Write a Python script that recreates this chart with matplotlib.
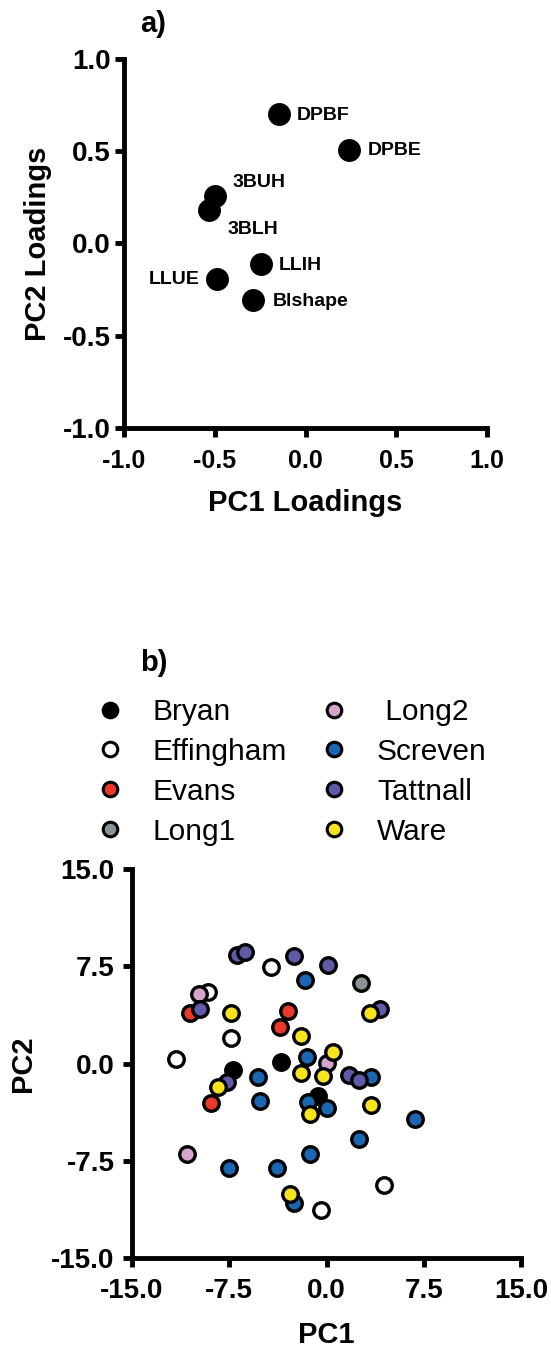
import numpy as np
import matplotlib.pyplot as plt
from matplotlib.lines import Line2D

plt.rcParams['font.family'] = ['Liberation Sans', 'DejaVu Sans']

# a) навантаження змінних
var_names = ['DPBF', 'DPBE', '3BUH', '3BLH', 'LLIH', 'LLUE', 'Blshape']
pc1_load = [-0.147, 0.238, -0.50, -0.534, -0.248, -0.488, -0.29]
pc2_load = [0.703, 0.509, 0.256, 0.179, -0.11, -0.191, -0.309]
load_ticks = [-1.0, -0.5, 0.0, 0.5, 1.0]

# b) оцінки по округах
counties = ['Bryan', 'Effingham', 'Evans', 'Long1', 'Long2', 'Screven', 'Tattnall', 'Ware']
county_labels = ['Bryan', 'Effingham', 'Evans', 'Long1', ' Long2', 'Screven', 'Tattnall', 'Ware']
colors = ['#000000', '#ffffff', '#e8392b', '#8c9396', '#d6a3cc', '#1b66b1', '#5f5ba8', '#f7e41c']
score_x = {
    'Bryan': [-3.49, -7.19, -0.64],
    'Effingham': [-4.26, -9.15, -7.35, -11.57, -0.41, 4.42],
    'Evans': [-10.54, -2.99, -3.55, -8.94],
    'Long1': [2.68],
    'Long2': [-9.85, 0.05, -10.79],
    'Screven': [-1.64, -1.54, -5.30, -5.14, 3.45, -1.44, 0.02, 6.86, -7.52, -3.80, -1.31, 2.51, -2.52],
    'Tattnall': [-6.94, -6.25, -2.52, 0.13, -9.75, 4.16, -7.66, 1.72, 2.49],
    'Ware': [-7.38, 3.39, -2.00, 0.49, -0.25, -1.98, -8.35, -1.31, 3.45, -2.85],
}
score_y = {
    'Bryan': [0.10, -0.49, -2.53],
    'Effingham': [7.45, 5.51, 1.99, 0.36, -11.31, -9.4],
    'Evans': [3.94, 4.08, 2.86, -3.05],
    'Long1': [6.26],
    'Long2': [5.34, 0.05, -6.94],
    'Screven': [6.47, 0.54, -1.06, -2.90, -1.06, -2.96, -3.43, -4.28, -8.02, -8.07, -6.98, -5.85, -10.75],
    'Tattnall': [8.35, 8.61, 8.28, 7.62, 4.19, 4.23, -1.45, -0.87, -1.26],
    'Ware': [3.92, 3.91, 2.11, 0.87, -0.93, -0.75, -1.78, -3.92, -3.22, -10.03],
}
score_ticks = [-15.0, -7.5, 0.0, 7.5, 15.0]

# зсуви підписів (в пунктах)
label_offsets = [(12.7, -1.2), (13.5, -0.7), (13, 9.9), (13.7, -13.7), (13, -1.2), (-12.5, -0.5), (14.2, -0.7)]

fig = plt.figure(figsize=(5.51, 13.5), dpi=100)


def style_axes(ax, xsize, ysize, xpad, ypad):
    for s in ['top', 'right']:
        ax.spines[s].set_visible(False)
    for s in ['left', 'bottom']:
        ax.spines[s].set_linewidth(3.5)
    ax.tick_params(direction='out', length=6.5, width=3.5)
    ax.tick_params(axis='x', labelsize=xsize, pad=xpad)
    ax.tick_params(axis='y', labelsize=ysize, pad=ypad)
    for lab in ax.get_xticklabels() + ax.get_yticklabels():
        lab.set_fontweight('bold')


# панель a)
ax1 = fig.add_axes([0.225, 0.683, 0.659, 0.2733])
ax1.scatter(pc1_load, pc2_load, s=240, color='black', zorder=3, clip_on=False)
for name, x, y, off in zip(var_names, pc1_load, pc2_load, label_offsets):
    ax1.annotate(name, (x, y), xytext=off, textcoords='offset points',
                 ha='right' if off[0] < 0 else 'left', va='center',
                 fontsize=14, fontweight='bold')
ax1.set_xlim(-1, 1)
ax1.set_ylim(-1, 1)
ax1.set_xticks(load_ticks)
ax1.set_yticks(load_ticks)
ax1.set_xticklabels([f'{t:.1f}' for t in load_ticks])
ax1.set_yticklabels([f'{t:.1f}' for t in load_ticks])
style_axes(ax1, 18, 20, 9, 3)
ax1.set_xlabel('PC1 Loadings', fontsize=21, fontweight='bold', labelpad=11)
ax1.set_ylabel('PC2 Loadings', fontsize=21, fontweight='bold', labelpad=8)
fig.text(140 / 551, 1 - 24 / 1350, 'a)', fontsize=21, fontweight='bold', ha='left', va='center')

# панель b)
ax2 = fig.add_axes([0.2396, 0.0681, 0.706, 0.288])
for c, col in zip(counties, colors):
    ax2.scatter(score_x[c], score_y[c], s=125, facecolor=col, edgecolor='black',
                linewidth=2.4, zorder=3)
ax2.set_xlim(-15, 15)
ax2.set_ylim(-15, 15)
ax2.set_xticks(score_ticks)
ax2.set_yticks(score_ticks)
ax2.set_xticklabels([f'{t:.1f}' for t in score_ticks])
ax2.set_yticklabels([f'{t:.1f}' for t in score_ticks])
style_axes(ax2, 20, 20, 8, 6)
ax2.set_xlabel('PC1', fontsize=21, fontweight='bold', labelpad=12)
ax2.set_ylabel('PC2', fontsize=21, fontweight='bold', labelpad=10)
fig.text(140 / 551, 1 - 663 / 1350, 'b)', fontsize=21, fontweight='bold', ha='left', va='center')

handles = [Line2D([], [], linestyle='none', marker='o', markersize=10.5,
                  markerfacecolor=col, markeredgecolor='black', markeredgewidth=2.2)
           for col in colors]
fig.legend(handles, county_labels, loc='upper left', bbox_to_anchor=(95 / 551, 1 - 698 / 1350),
           ncol=2, frameon=False, fontsize=21.5, handlelength=1.0, handletextpad=0.92,
           columnspacing=1.1, labelspacing=0.4, borderpad=0, borderaxespad=0)

plt.savefig('out.png', dpi=100)
